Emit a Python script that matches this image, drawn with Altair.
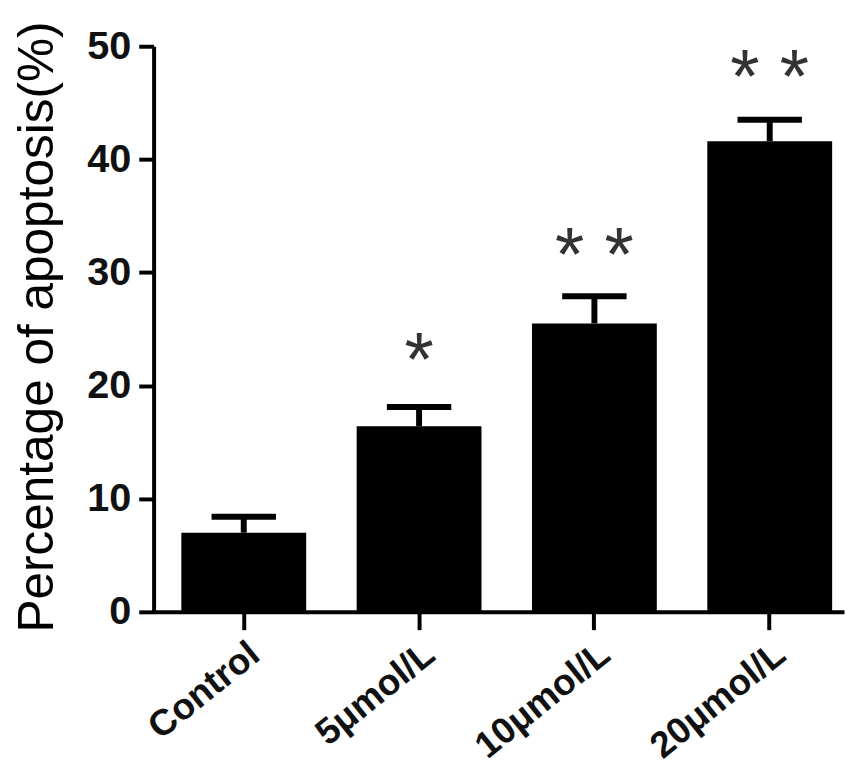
import altair as alt
import pandas as pd

categories = ["Control", "5μmol/L", "10μmol/L", "20μmol/L"]
means = [7.0, 16.4, 25.5, 41.6]
upper = [8.4, 18.1, 27.9, 43.5]
stars = ["", "*", "**", "**"]
star_y = [None, 23.6, 32.9, 48.7]
y_ticks = [0, 10, 20, 30, 40, 50]

df = pd.DataFrame({"group": categories, "mean": means, "upper": upper,
                   "stars": stars, "star_y": star_y})

xenc = alt.X("group:N", sort=categories,
             scale=alt.Scale(paddingInner=0.288, paddingOuter=0.113, align=0.7),
             axis=alt.Axis(title=None, labelAngle=-39, labelAlign="right",
                           labelBaseline="top", labelFontSize=37,
                           labelFontWeight="bold", labelPadding=6,
                           tickSize=18, tickWidth=4, domainWidth=4,
                           labelColor="#111", tickColor="black",
                           domainColor="black"))

yscale = alt.Scale(domain=[0, 50], nice=False)

base = alt.Chart(df)

bars = base.mark_bar(color="black").encode(
    x=xenc,
    y=alt.Y("mean:Q", scale=yscale,
            axis=alt.Axis(values=y_ticks, title="Percentage of apoptosis(%)",
                          titleFontSize=50, titleFontWeight="normal",
                          titleAngle=-90, titleX=-102, titleY=283,
                          titleAlign="center", titleBaseline="alphabetic",
                          titleColor="black",
                          labelFontSize=40, labelFontWeight="bold",
                          labelColor="#111", labelPadding=8,
                          tickSize=15, tickWidth=4, tickColor="black",
                          domainWidth=4, domainColor="black", grid=False))
)

err = base.mark_rule(color="black", strokeWidth=6).encode(
    x=alt.X("group:N", sort=categories), y=alt.Y("mean:Q"), y2="upper:Q"
)

cap = base.mark_tick(color="black", size=65, thickness=6, opacity=1).encode(
    x=alt.X("group:N", sort=categories), y=alt.Y("upper:Q")
)

star_one = base.transform_filter("datum.stars == '*'").mark_text(
    text="*", fontSize=76, baseline="middle", dy=18, color="#333"
).encode(x=alt.X("group:N", sort=categories), y=alt.Y("star_y:Q"))

star_left = base.transform_filter("datum.stars == '**'").mark_text(
    text="*", fontSize=76, baseline="middle", dy=18, dx=-25, color="#333"
).encode(x=alt.X("group:N", sort=categories), y=alt.Y("star_y:Q"))

star_right = base.transform_filter("datum.stars == '**'").mark_text(
    text="*", fontSize=76, baseline="middle", dy=18, dx=25, color="#333"
).encode(x=alt.X("group:N", sort=categories), y=alt.Y("star_y:Q"))

chart = alt.layer(bars, err, cap, star_one, star_left, star_right).properties(
    width=697, height=571,
    autosize=alt.AutoSizeParams(type="none"),
    padding={"left": 147, "top": 35, "right": 2, "bottom": 150},
).configure(font="Liberation Sans").configure_view(stroke=None)

chart.save("out.html", embed_options={"renderer": "svg", "actions": False})
